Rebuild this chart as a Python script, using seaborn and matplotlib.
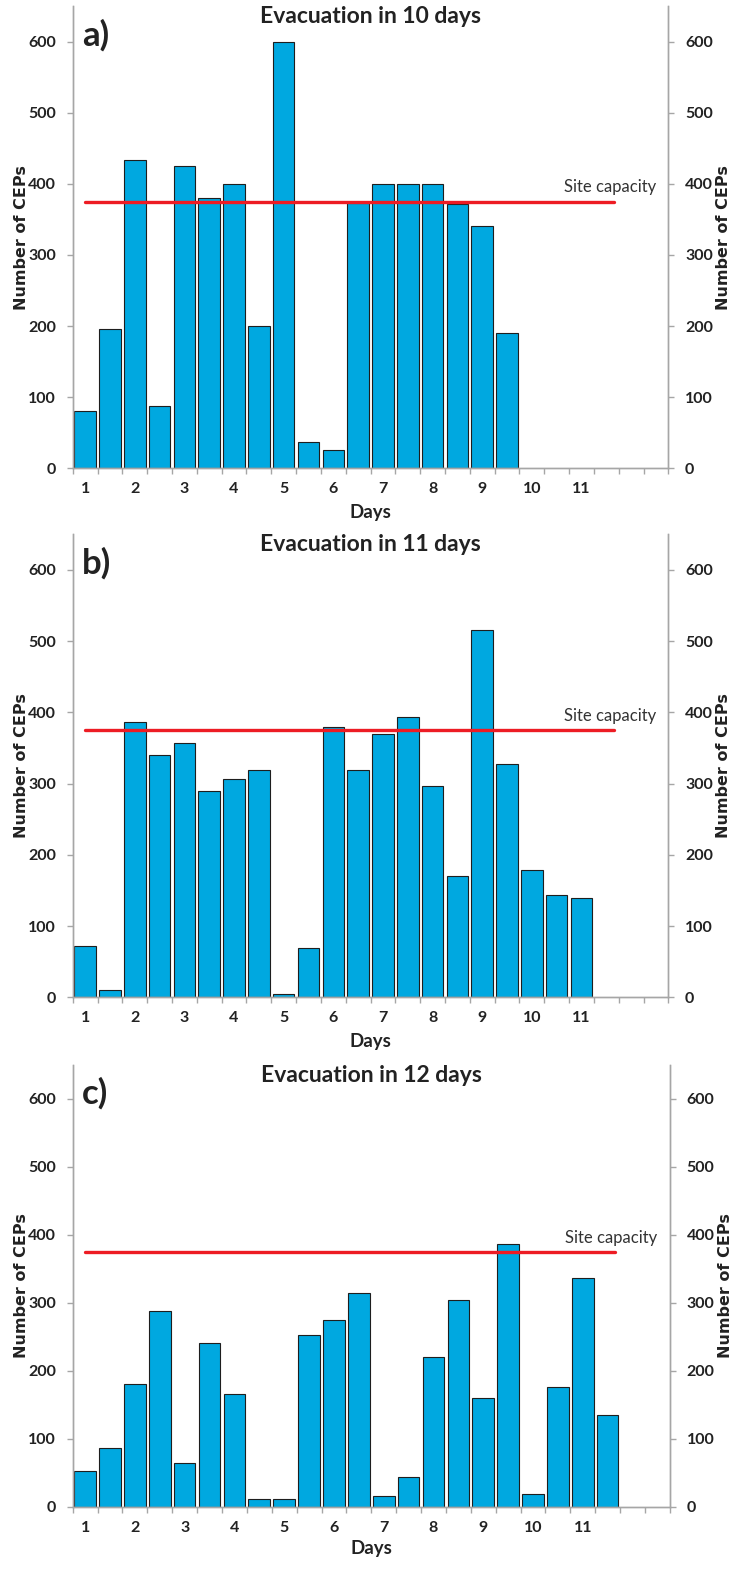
import matplotlib
matplotlib.use("Agg")
import matplotlib.pyplot as plt
import numpy as np
import pandas as pd
import seaborn as sns
from matplotlib.ticker import FixedLocator

# Number of CEPs per half-day slot
cep_10_days = [80, 196, 434, 87, 425, 380, 400, 200, 600, 37, 26, 373,
               400, 400, 400, 372, 341, 190]
cep_11_days = [72, 10, 386, 340, 357, 290, 307, 319, 4, 69, 379, 319,
               369, 393, 297, 170, 516, 328, 179, 143, 139]
cep_12_days = [53, 87, 181, 288, 65, 241, 166, 11, 12, 252, 274, 314,
               15, 44, 220, 304, 160, 386, 19, 176, 336, 135]

day_labels = [str(d) for d in range(1, 12)]
panel_tags = ["a)", "b)", "c)"]
panel_titles = ["Evacuation in 10 days", "Evacuation in 11 days", "Evacuation in 12 days"]
site_capacity = 375
n_slots = 24

BAR_COLOR = "#00A8E0"
EDGE_COLOR = "#1e1e1e"
GRID_GRAY = "#a6a6a6"
RED = "#ED1C24"

sns.set_style("white")
plt.rcParams["font.family"] = ["Lato", "DejaVu Sans"]

fig = plt.figure(figsize=(7.33, 15.89), dpi=100)

# axes boxes in figure fractions (left, bottom, width, height)
boxes = [
    (0.0992, 0.7053, 0.8126, 0.2909),
    (0.0992, 0.3724, 0.8126, 0.2914),
    (0.0992, 0.0518, 0.8146, 0.2780),
]


def style_axis(ax):
    ax.spines["top"].set_visible(False)
    for side in ["left", "right", "bottom"]:
        ax.spines[side].set_color(GRID_GRAY)
        ax.spines[side].set_linewidth(1.0)


for data, tag, title, box in zip([cep_10_days, cep_11_days, cep_12_days],
                                 panel_tags, panel_titles, boxes):
    ax = fig.add_axes(box)
    df = pd.DataFrame({"slot": np.arange(len(data)), "ceps": data})
    sns.barplot(data=df, x="slot", y="ceps", ax=ax, color=BAR_COLOR,
                saturation=1, width=0.87, edgecolor=EDGE_COLOR, linewidth=0.8)

    ax.set_xlim(-0.5, n_slots - 0.5)
    ax.set_ylim(0, 650)
    style_axis(ax)

    # day labels under first slot of each day, ticks at slot boundaries
    ax.xaxis.set_major_locator(FixedLocator(np.arange(0, 2 * len(day_labels), 2)))
    ax.set_xticklabels(day_labels)
    ax.xaxis.set_minor_locator(FixedLocator(np.arange(-0.5, n_slots, 1)))
    ax.tick_params(axis="x", which="major", length=0, pad=10,
                   labelsize=11.5)
    ax.tick_params(axis="x", which="minor", length=4, width=1,
                   color=GRID_GRAY, direction="out", bottom=True)
    for lab in ax.get_xticklabels():
        lab.set_fontweight("bold")
        lab.set_color("#222222")

    ax.set_yticks(np.arange(0, 601, 100))
    ax.tick_params(axis="y", which="major", length=4, width=1,
                   color=GRID_GRAY, direction="out", left=True, pad=8,
                   labelsize=11.5)
    for lab in ax.get_yticklabels():
        lab.set_fontweight("bold")
        lab.set_color("#222222")

    ax.set_xlabel("Days", fontsize=13.5, fontweight="bold", color="#222222")
    ax.xaxis.label.set_va("center")
    ax.xaxis.set_label_coords(0.5, -0.095)
    ax.set_ylabel("Number of CEPs", fontsize=11.5, fontweight="bold",
                  color="#222222", family=["DejaVu Sans"])
    ax.yaxis.set_label_coords(-0.074, 0.5)

    # site capacity line
    ax.plot([0, 21.3], [site_capacity, site_capacity], color=RED,
            linewidth=2.4, zorder=5)
    ax.text(23.0, 395, "Site capacity", ha="right", va="center",
            fontsize=12, color="#333333")

    ax.text(0.5, 0.977, title, transform=ax.transAxes, ha="center",
            va="center", fontsize=16.5, fontweight="bold", color="#222222")
    ax.text(0.016, 0.937, tag, transform=ax.transAxes, ha="left",
            va="center", fontsize=25, fontweight="bold", color="#222222")

    # right-hand duplicate axis
    ax2 = ax.twinx()
    ax2.set_ylim(0, 650)
    ax2.set_yticks(np.arange(0, 601, 100))
    style_axis(ax2)
    ax2.tick_params(axis="y", which="major", length=4, width=1,
                    color=GRID_GRAY, direction="out", right=True, pad=8,
                    labelsize=11.5)
    for lab in ax2.get_yticklabels():
        lab.set_fontweight("bold")
        lab.set_color("#222222")
    ax2.set_ylabel("Number of CEPs", fontsize=11.5, fontweight="bold",
                   color="#222222", family=["DejaVu Sans"], rotation=90)
    ax2.yaxis.set_label_coords(1.08, 0.5)
    ax2.grid(False)

fig.savefig("out.png", dpi=100)
